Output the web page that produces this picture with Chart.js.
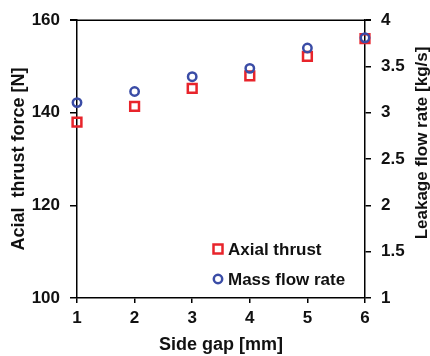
<!DOCTYPE html>
<html>
<head>
<script src="https://cdn.jsdelivr.net/npm/chart.js@4.4.0/dist/chart.umd.min.js"></script>
<style>
  body { margin: 0; background: #fff; }
</style>
</head>
<body>
<canvas id="myChart" width="430" height="356"></canvas>
<script>
  // data
  var sideGap = [1, 2, 3, 4, 5, 6];
  var axialThrust = [138, 141.4, 145.3, 148, 152.2, 156];
  var massFlow = [3.11, 3.23, 3.39, 3.48, 3.70, 3.81];
  var leftTicks = [100, 120, 140, 160];
  var rightTicks = [1, 1.5, 2, 2.5, 3, 3.5, 4];

  var red = '#e8242b';
  var blue = '#3a4ca6';
  var ink = '#111';
  var fontName = '"Liberation Sans", Arial, sans-serif';

  function pts(ys) {
    var out = [];
    for (var i = 0; i < sideGap.length; i++) out.push({ x: sideGap[i], y: ys[i] });
    return out;
  }

  // top frame line, right axis title and the legend inside the plot
  var extras = {
    id: 'extras',
    afterDraw: function(chart) {
      var ctx = chart.ctx, a = chart.chartArea;
      ctx.save();
      ctx.strokeStyle = '#000';
      ctx.lineWidth = 1.5;
      ctx.beginPath();
      ctx.moveTo(a.left - 7, a.top);
      ctx.lineTo(a.right + 6, a.top);
      ctx.stroke();

      ctx.fillStyle = ink;
      ctx.font = 'bold 17px ' + fontName;
      ctx.textAlign = 'center';
      ctx.textBaseline = 'middle';
      ctx.translate(422, 143);
      ctx.rotate(-Math.PI / 2);
      ctx.fillText('Leakage flow rate [kg/s]', 0, 0);
      ctx.restore();

      ctx.save();
      ctx.lineWidth = 2.5;
      ctx.strokeStyle = red;
      ctx.strokeRect(213.5, 244.5, 9, 9);
      ctx.strokeStyle = blue;
      ctx.beginPath();
      ctx.arc(218, 279, 4.2, 0, Math.PI * 2);
      ctx.stroke();
      ctx.fillStyle = ink;
      ctx.font = 'bold 17px ' + fontName;
      ctx.textAlign = 'left';
      ctx.textBaseline = 'middle';
      ctx.fillText('Axial thrust', 228, 250);
      ctx.fillText('Mass flow rate', 228, 280);
      ctx.restore();
    }
  };

  var ctx = document.getElementById('myChart').getContext('2d');
  var myChart = new Chart(ctx, {
    type: 'scatter',
    data: {
      datasets: [
        {
          label: 'Axial thrust',
          data: pts(axialThrust),
          yAxisID: 'y',
          order: 1,
          clip: false,
          pointStyle: 'rect',
          pointRadius: 6.2,
          borderColor: red,
          backgroundColor: 'rgba(0,0,0,0)',
          borderWidth: 2.5
        },
        {
          label: 'Mass flow rate',
          data: pts(massFlow),
          yAxisID: 'y2',
          order: 0,
          clip: false,
          pointStyle: 'circle',
          pointRadius: 4.2,
          borderColor: blue,
          backgroundColor: 'rgba(0,0,0,0)',
          borderWidth: 2.5
        }
      ]
    },
    options: {
      responsive: false,
      animation: false,
      layout: { padding: { top: 20, left: 0, right: 0, bottom: 0 } },
      plugins: { legend: { display: false }, tooltip: { enabled: false } },
      scales: {
        x: {
          type: 'linear',
          min: 1, max: 6,
          afterFit: function(s) { s.height = 58; },
          grid: { drawOnChartArea: false, tickLength: 5, color: '#000', lineWidth: 1.5 },
          border: { color: '#000', width: 1.5 },
          ticks: {
            stepSize: 1, padding: 5, color: ink,
            font: { family: fontName, size: 17, weight: 'bold' }
          },
          title: {
            display: true, text: 'Side gap [mm]', color: ink,
            padding: { top: 0, bottom: 0 },
            font: { family: fontName, size: 18, weight: 'bold' }
          }
        },
        y: {
          position: 'left',
          min: 100, max: 160,
          afterFit: function(s) { s.width = 77; },
          afterBuildTicks: function(s) { s.ticks = leftTicks.map(function(v) { return { value: v }; }); },
          grid: { drawOnChartArea: false, tickLength: 7, color: '#000', lineWidth: 1.5 },
          border: { color: '#000', width: 1.5 },
          ticks: {
            padding: 10, color: ink,
            font: { family: fontName, size: 17, weight: 'bold' }
          },
          title: {
            display: true, text: 'Acial  thrust force [N]', color: ink,
            padding: { top: 8, bottom: 0 },
            font: { family: fontName, size: 18, weight: 'bold' }
          }
        },
        y2: {
          position: 'right',
          min: 1, max: 4,
          afterFit: function(s) { s.width = 65; },
          afterBuildTicks: function(s) { s.ticks = rightTicks.map(function(v) { return { value: v }; }); },
          grid: { drawOnChartArea: false, tickLength: 6, color: '#000', lineWidth: 1.5 },
          border: { color: '#000', width: 1.5 },
          ticks: {
            padding: 10, color: ink,
            font: { family: fontName, size: 17, weight: 'bold' },
            callback: function(v) { return String(v); }
          }
        }
      }
    },
    plugins: [extras]
  });
</script>
</body>
</html>
